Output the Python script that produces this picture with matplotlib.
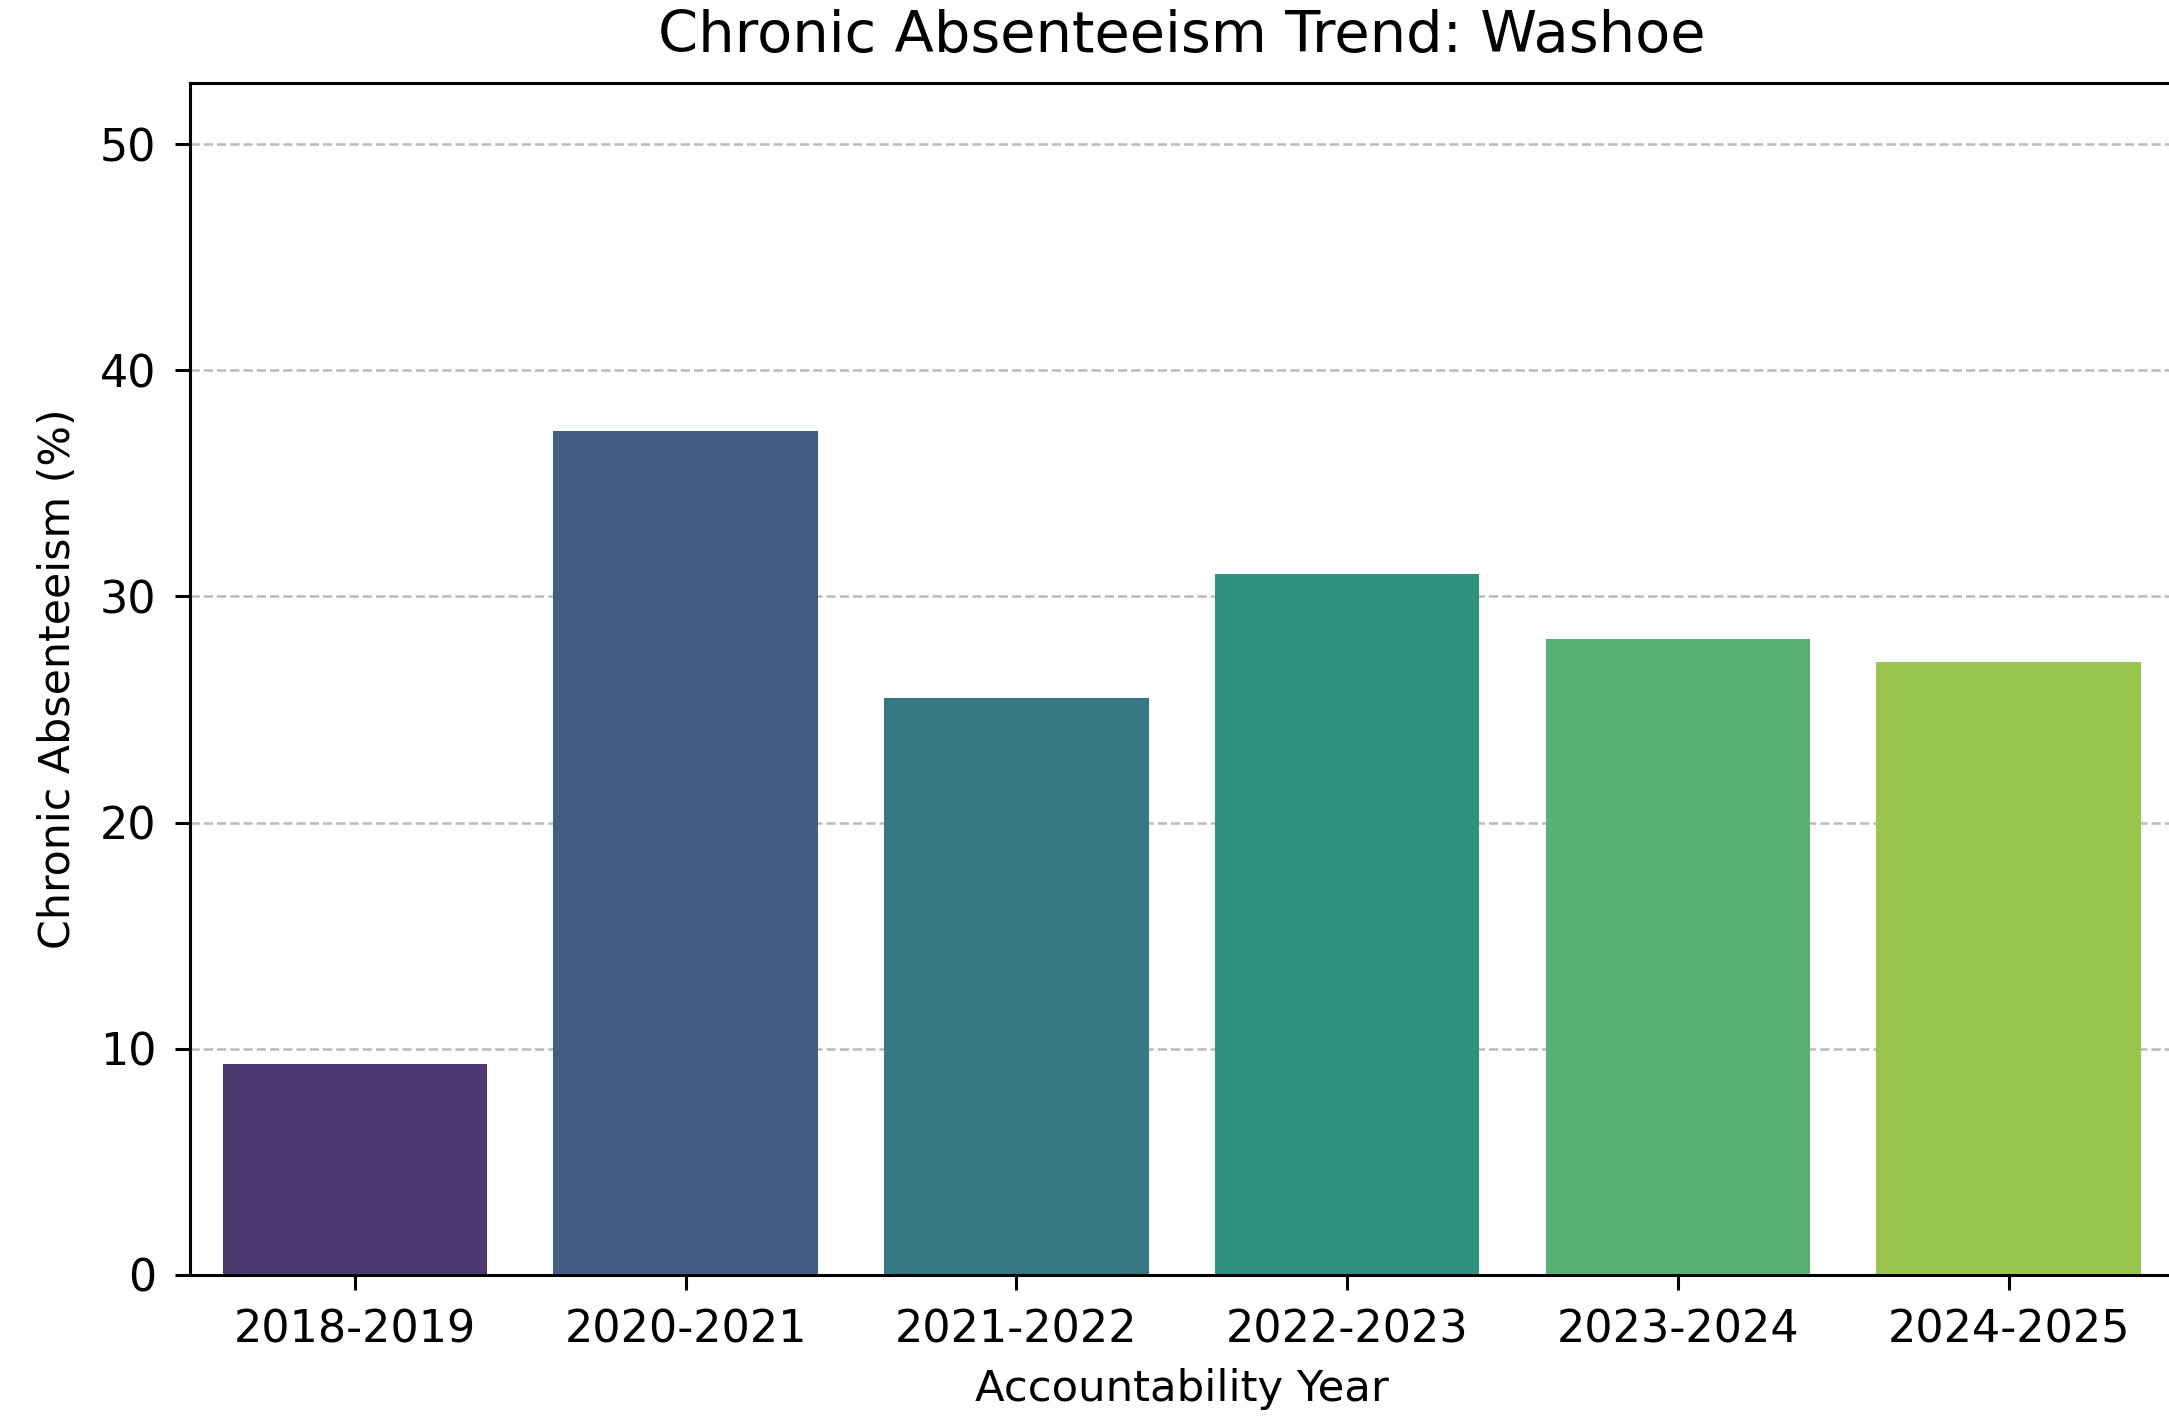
import matplotlib
matplotlib.use("Agg")
import matplotlib.pyplot as plt

years = ["2018-2019", "2020-2021", "2021-2022", "2022-2023", "2023-2024", "2024-2025"]
absenteeism = [9.35, 37.3, 25.5, 31.0, 28.1, 27.1]
bar_colors = ["#4b3a72", "#415e82", "#357782", "#31917f", "#5ab175", "#9ac54f"]
y_ticks = [0, 10, 20, 30, 40, 50]

plt.rcParams['font.family'] = ['DejaVu Sans']

W, H, DPI = 2169, 1417, 200
fig = plt.figure(figsize=(W / DPI, H / DPI), dpi=DPI)
left, right, top, bottom = 189.5, 2174, 83, 1275
ax = fig.add_axes([left / W, 1 - bottom / H, (right - left) / W, (bottom - top) / H])

x = list(range(len(years)))
ax.bar(x, absenteeism, width=0.8, color=bar_colors, zorder=2)
ax.set_xlim(-0.5, len(years) - 0.5)
ax.set_ylim(0, 52.7)
ax.set_yticks(y_ticks)
ax.set_xticks(x)
ax.set_xticklabels(years)
ax.yaxis.grid(True, linestyle='--', color='#bbbbbb', linewidth=0.9, zorder=0)
ax.set_axisbelow(True)
for s in ax.spines.values():
    s.set_linewidth(1.1)
    s.set_color('black')
ax.tick_params(axis='both', labelsize=16, width=1.1, length=5.5, pad=6.5, color='black')
ax.set_title("Chronic Absenteeism Trend: Washoe", fontsize=20.7, pad=11)
ax.set_xlabel("Accountability Year", fontsize=15.6, labelpad=6)
ax.set_ylabel("Chronic Absenteeism (%)", fontsize=15.4, labelpad=7.5)

fig.savefig("out.png", dpi=DPI)
